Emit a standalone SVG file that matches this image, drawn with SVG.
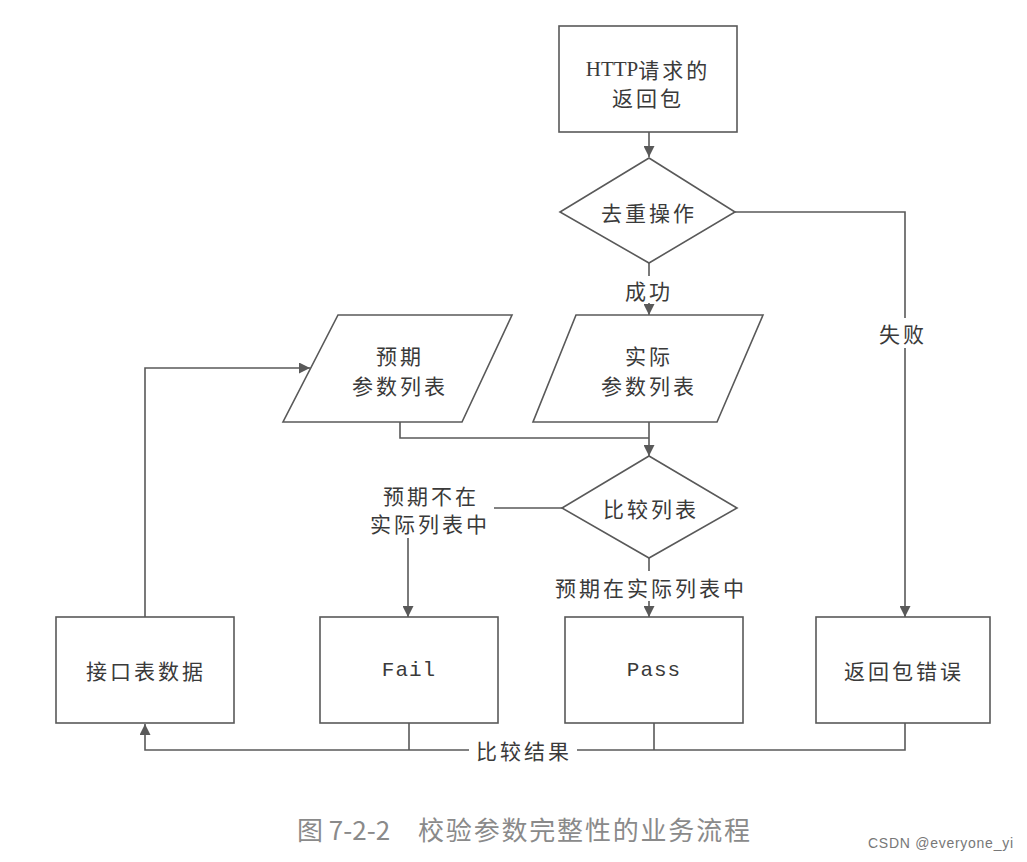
<svg xmlns="http://www.w3.org/2000/svg" width="1027" height="862" viewBox="0 0 1027 862">
<defs>
<style>
.n{fill:#fff;stroke:#595959;stroke-width:1.6}
.c{fill:none;stroke:#595959;stroke-width:1.6}
.t{font-family:"Noto Sans CJK SC","Liberation Serif",serif;font-size:21px;fill:#3a3a3a;text-anchor:middle;dominant-baseline:central;letter-spacing:3px}
.m{font-family:"Liberation Mono",monospace;font-size:21px;fill:#3a3a3a;text-anchor:middle;dominant-baseline:central;letter-spacing:1px}
.cap{font-family:"Noto Sans CJK SC","Liberation Serif",serif;font-size:26px;fill:#8a8a8a;dominant-baseline:central}
.wm{font-family:"Liberation Sans",sans-serif;font-size:14px;fill:#777;dominant-baseline:central}
</style>
<marker id="a" viewBox="0 0 10 10" refX="10" refY="5" markerWidth="11" markerHeight="11" markerUnits="userSpaceOnUse" orient="auto">
<path d="M0,0 L10,5 L0,10 z" fill="#595959"/>
</marker>
</defs>
<rect width="1027" height="862" fill="#fff"/>
<g id="connectors">
<path class="c" d="M649,132 V157" marker-end="url(#a)"/>
<path class="c" d="M649,263 V276"/>
<path class="c" d="M649,303 V315" marker-end="url(#a)"/>
<path class="c" d="M735,212 H905 V318"/>
<path class="c" d="M905,348 V617" marker-end="url(#a)"/>
<path class="c" d="M400,422 V438 H649"/>
<path class="c" d="M649,422 V456" marker-end="url(#a)"/>
<path class="c" d="M562,508 H494"/>
<path class="c" d="M408,538 V617" marker-end="url(#a)"/>
<path class="c" d="M649,558 V571"/>
<path class="c" d="M649,601 V617" marker-end="url(#a)"/>
<path class="c" d="M409,723 V750"/>
<path class="c" d="M654,723 V750"/>
<path class="c" d="M905,723 V750 H577"/>
<path class="c" d="M469,750 H145 V724" marker-end="url(#a)"/>
<path class="c" d="M145,617 V368 H310" marker-end="url(#a)"/>
<text class="t" x="649" y="290">成功</text>
<text class="t" x="903" y="333">失败</text>
<text class="t" x="431" y="495">预期不在</text>
<text class="t" x="430" y="523">实际列表中</text>
<text class="t" x="651" y="587">预期在实际列表中</text>
<text class="t" x="524" y="750">比较结果</text>
</g>
<g id="http">
<rect class="n" x="559" y="26" width="178" height="106"/>
<text class="t" x="648" y="69"><tspan font-family="Liberation Serif" letter-spacing="0">HTTP</tspan>请求的</text>
<text class="t" x="648" y="97">返回包</text>
</g>
<g id="dedup">
<polygon class="n" points="649,158 735,212 649,263 560,212"/>
<text class="t" x="649" y="212">去重操作</text>
</g>
<g id="expected">
<polygon class="n" points="338,315 512,315 462,422 283,422"/>
<text class="t" x="400" y="355">预期</text>
<text class="t" x="400" y="385">参数列表</text>
</g>
<g id="actual">
<polygon class="n" points="576,315 763,315 717,422 533,422"/>
<text class="t" x="649" y="355">实际</text>
<text class="t" x="649" y="385">参数列表</text>
</g>
<g id="compare">
<polygon class="n" points="649,456 737,508 649,558 562,508"/>
<text class="t" x="651" y="508">比较列表</text>
</g>
<g id="iface">
<rect class="n" x="56" y="617" width="178" height="106"/>
<text class="t" x="146" y="670">接口表数据</text>
</g>
<g id="fail">
<rect class="n" x="320" y="617" width="178" height="106"/>
<text class="m" x="409" y="670">Fail</text>
</g>
<g id="pass">
<rect class="n" x="565" y="617" width="178" height="106"/>
<text class="m" x="654" y="670">Pass</text>
</g>
<g id="error">
<rect class="n" x="816" y="617" width="174" height="106"/>
<text class="t" x="904" y="670">返回包错误</text>
</g>
<text class="cap" x="297" y="828">图 7-2-2</text>
<text class="cap" x="418" y="828" textLength="332" lengthAdjust="spacing">校验参数完整性的业务流程</text>
<text class="wm" x="868" y="843" textLength="145" lengthAdjust="spacing">CSDN @everyone_yi</text>
</svg>
